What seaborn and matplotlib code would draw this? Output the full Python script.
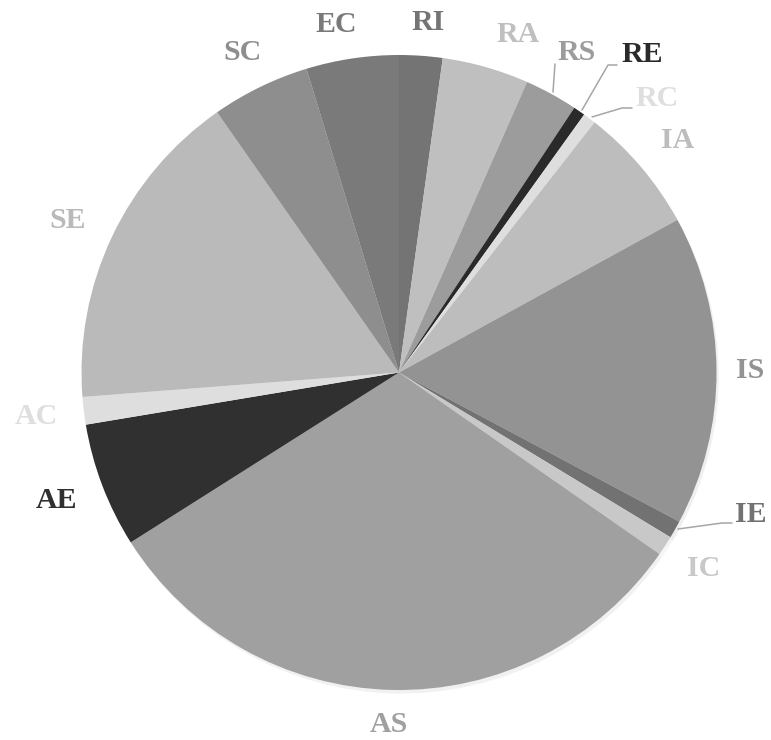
import matplotlib
matplotlib.use("Agg")
import matplotlib.pyplot as plt
import seaborn as sns

# ---- data ----
categories = ["RI", "RA", "RS", "RE", "RC", "IA", "IS", "IE", "IC",
              "AS", "AE", "AC", "SE", "SC", "EC"]
values = [2.2, 4.4, 2.7, 0.6, 0.65, 6.45, 15.75, 0.9, 1.0,
          31.3, 6.35, 1.4, 16.5, 5.0, 4.7]
colors = ["#747474", "#bfbfbf", "#9c9c9c", "#2a2a2a", "#dedede", "#bdbdbd",
          "#939393", "#727272", "#c8c8c8", "#a0a0a0", "#303030", "#dedede",
          "#bababa", "#8e8e8e", "#7a7a7a"]

# ---- layout (pixel positions of labels) ----
label_px = {
    "EC": (336, 24), "RI": (428, 22), "RA": (518, 34), "RS": (577, 53),
    "RE": (642, 55), "RC": (657, 99), "IA": (678, 140), "IS": (750, 370),
    "IE": (751, 514), "IC": (704, 568), "AS": (389, 724), "AE": (56, 501),
    "AC": (36, 417), "SE": (68, 221), "SC": (242, 52),
}
leaders_px = {
    "RS": [(555, 64), (553, 92)],
    "RE": [(617, 65), (608, 65), (582, 110)],
    "RC": [(632, 108), (622, 108), (592, 117)],
    "IE": [(732, 523), (722, 523), (678, 529)],
}

W, H = 771, 740
CX, CY, R = 399, 372.5, 317.5


def to_data(p):
    return (p[0] - CX) / R, (CY - p[1]) / R


sns.set_theme(style="white")
plt.rcParams["font.family"] = ["Liberation Serif", "DejaVu Serif"]

fig = plt.figure(figsize=(W / 100, H / 100), dpi=100)
ax = fig.add_axes([0, 0, 1, 1])

wedges, _ = ax.pie(values, colors=colors, startangle=90, counterclock=False,
                   radius=1.0, center=(0, 0),
                   wedgeprops=dict(linewidth=0),
                   shadow=dict(ox=0.005, oy=-0.008, shade=0.1, alpha=0.12))

for cat, col in zip(categories, colors):
    x, y = to_data(label_px[cat])
    ax.text(x, y, cat, ha="center", va="center", fontsize=21.5,
            fontweight="bold", color=col)

for cat, pts in leaders_px.items():
    d = [to_data(p) for p in pts]
    ax.plot([p[0] for p in d], [p[1] for p in d], color="#a6a6a6", lw=1.1)

ax.set_xlim(-CX / R, (W - CX) / R)
ax.set_ylim(-(H - CY) / R, CY / R)
ax.set_aspect("auto")
ax.axis("off")

fig.savefig("out.png", dpi=100, facecolor="white")
